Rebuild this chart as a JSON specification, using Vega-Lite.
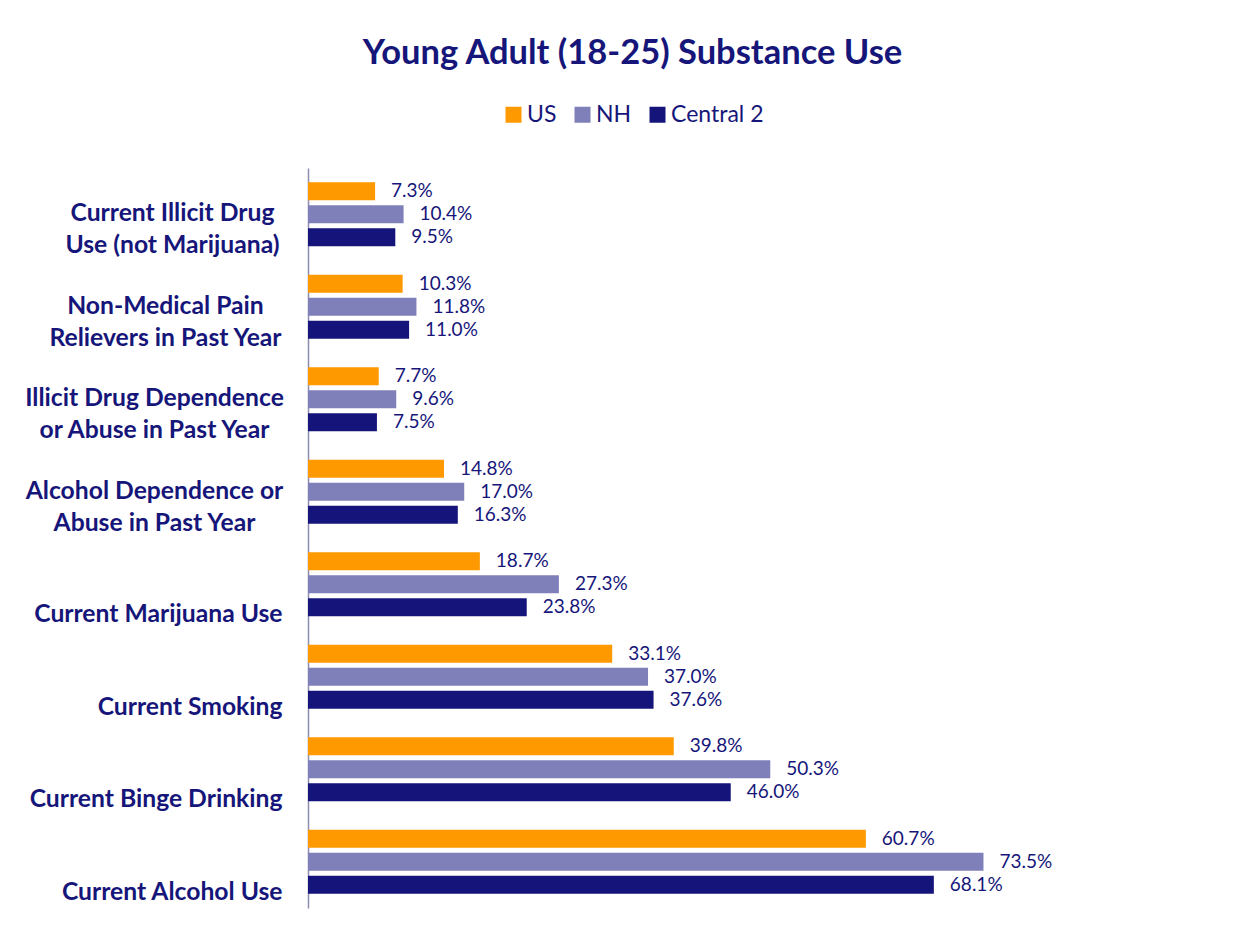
{
  "$schema": "https://vega.github.io/schema/vega-lite/v6.json",
  "width": 919,
  "height": 740,
  "autosize": {"type": "none"},
  "padding": {"left": 308, "top": 168, "right": 28, "bottom": 26},
  "background": "white",
  "title": {
    "text": "Young Adult (18-25) Substance Use",
    "font": "Lato",
    "fontSize": 34.5,
    "fontWeight": "bold",
    "color": "#16167A",
    "anchor": "middle",
    "frame": "group",
    "dx": -135,
    "offset": 32
  },
  "data": {
    "values": [
      {"cat": "Current Illicit Drug|Use (not Marijuana)", "series": "US", "value": 0.073},
      {"cat": "Current Illicit Drug|Use (not Marijuana)", "series": "NH", "value": 0.104},
      {"cat": "Current Illicit Drug|Use (not Marijuana)", "series": "Central 2", "value": 0.095},
      {"cat": "Non-Medical Pain|Relievers in Past Year", "series": "US", "value": 0.103},
      {"cat": "Non-Medical Pain|Relievers in Past Year", "series": "NH", "value": 0.118},
      {"cat": "Non-Medical Pain|Relievers in Past Year", "series": "Central 2", "value": 0.110},
      {"cat": "Illicit Drug Dependence|or Abuse in Past Year", "series": "US", "value": 0.077},
      {"cat": "Illicit Drug Dependence|or Abuse in Past Year", "series": "NH", "value": 0.096},
      {"cat": "Illicit Drug Dependence|or Abuse in Past Year", "series": "Central 2", "value": 0.075},
      {"cat": "Alcohol Dependence or|Abuse in Past Year", "series": "US", "value": 0.148},
      {"cat": "Alcohol Dependence or|Abuse in Past Year", "series": "NH", "value": 0.170},
      {"cat": "Alcohol Dependence or|Abuse in Past Year", "series": "Central 2", "value": 0.163},
      {"cat": "Current Marijuana Use", "series": "US", "value": 0.187},
      {"cat": "Current Marijuana Use", "series": "NH", "value": 0.273},
      {"cat": "Current Marijuana Use", "series": "Central 2", "value": 0.238},
      {"cat": "Current Smoking", "series": "US", "value": 0.331},
      {"cat": "Current Smoking", "series": "NH", "value": 0.370},
      {"cat": "Current Smoking", "series": "Central 2", "value": 0.376},
      {"cat": "Current Binge Drinking", "series": "US", "value": 0.398},
      {"cat": "Current Binge Drinking", "series": "NH", "value": 0.503},
      {"cat": "Current Binge Drinking", "series": "Central 2", "value": 0.460},
      {"cat": "Current Alcohol Use", "series": "US", "value": 0.607},
      {"cat": "Current Alcohol Use", "series": "NH", "value": 0.735},
      {"cat": "Current Alcohol Use", "series": "Central 2", "value": 0.681}
    ]
  },
  "encoding": {
    "y": {
      "field": "cat",
      "type": "nominal",
      "sort": null,
      "scale": {"paddingInner": 0.254, "paddingOuter": 0.127},
      "axis": {
        "title": null,
        "ticks": false,
        "labelExpr": "split(datum.value, '|')",
        "labelFont": "Lato",
        "labelFontSize": 24.7,
        "labelFontWeight": "bold",
        "labelColor": "#16167A",
        "labelAlign": {"condition": {"test": "indexof(datum.value, '|') >= 0", "value": "center"}, "value": "right"},
        "labelBaseline": "bottom",
        "labelOffset": {"condition": {"test": "indexof(datum.value, '|') >= 0", "value": 12}, "value": 43},
        "labelLineHeight": 32,
        "labelPadding": {
          "condition": [
            {"test": "datum.value == 'Current Illicit Drug|Use (not Marijuana)'", "value": 136},
            {"test": "datum.value == 'Non-Medical Pain|Relievers in Past Year'", "value": 143},
            {"test": "indexof(datum.value, '|') >= 0", "value": 154}
          ],
          "value": 26
        },
        "labelLimit": 400,
        "domainColor": "#8C8CB0",
        "domainWidth": 1.5
      }
    },
    "yOffset": {
      "field": "series",
      "type": "nominal",
      "sort": ["US", "NH", "Central 2"],
      "scale": {"paddingInner": 0.217, "paddingOuter": 0.109}
    },
    "x": {
      "field": "value",
      "type": "quantitative",
      "scale": {"domain": [0, 1], "nice": false},
      "axis": null
    }
  },
  "layer": [
    {
      "mark": {"type": "bar"},
      "encoding": {
        "color": {
          "field": "series",
          "type": "nominal",
          "sort": ["US", "NH", "Central 2"],
          "scale": {"domain": ["US", "NH", "Central 2"], "range": ["#FF9900", "#7F7FB9", "#14147A"]},
          "legend": {
            "title": null,
            "orient": "none",
            "direction": "horizontal",
            "legendX": 194,
            "legendY": -65,
            "symbolType": "square",
            "symbolSize": 256,
            "symbolStrokeWidth": 0,
            "symbolOpacity": 1,
            "labelFont": "Lato",
            "labelFontSize": 23,
            "labelColor": "#16167A",
            "labelOffset": 2,
            "columnPadding": 14
          }
        }
      }
    },
    {
      "mark": {"type": "text", "align": "left", "baseline": "middle", "dx": 16, "font": "Lato", "fontSize": 19, "color": "#16167A"},
      "encoding": {
        "text": {"field": "value", "type": "quantitative", "format": ".1%"}
      }
    }
  ],
  "config": {
    "view": {"stroke": null}
  }
}
